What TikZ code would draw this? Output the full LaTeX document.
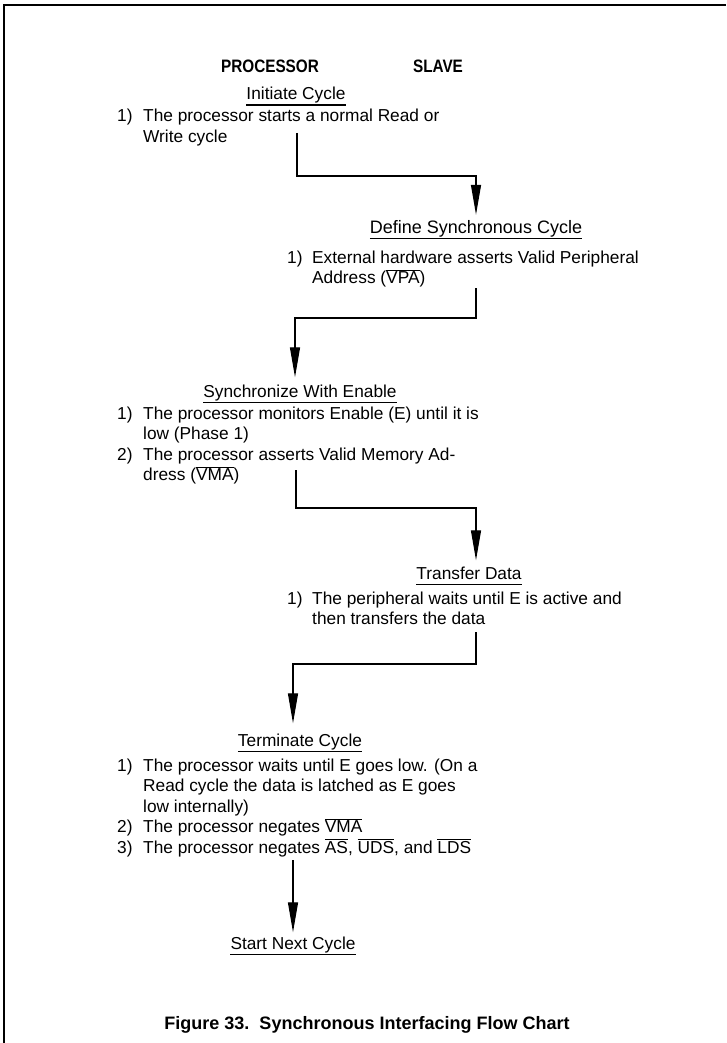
\documentclass[tikz,border=0pt]{standalone}
\usepackage{fontspec}
\setmainfont{Liberation Sans}
\newfontfamily\condsans{Liberation Sans}[FakeStretch=0.85]
\usetikzlibrary{arrows.meta}
\newcommand\ovl[1]{$\overline{\mbox{#1}}$}
\begin{document}
\begin{tikzpicture}[x=1pt,y=-1pt,
  body/.style={anchor=base west,inner sep=0pt,font=\fontsize{17.3}{20.5}\selectfont},
  colhead/.style={anchor=base,inner sep=0pt,font=\condsans\fontsize{18}{20}\selectfont\bfseries},
  heading/.style={anchor=base,inner sep=0pt,text depth=3.5pt,font=\fontsize{17.3}{20}\selectfont,
    append after command={([yshift=-1.5pt]\tikzlastnode.south west) edge[line width=1.4pt] ([yshift=-1.5pt]\tikzlastnode.south east)}},
  conn/.style={line width=1.3pt,-{Triangle[length=30pt,width=10pt]}},
  frame/.style={line width=1.5pt}]
\useasboundingbox (0,0) rectangle (726,1043);
\draw[frame] (4,1043) -- (4,5) -- (726,5);

\node[colhead] (proc) at (270,73) {PROCESSOR};
\node[colhead] (slave) at (438,73) {SLAVE};

\node[heading] (init) at (296,100) {Initiate Cycle};
\node[body] (initb) at (117,122) {\begin{tabular}[t]{@{}p{26pt}@{}l@{}}1) & The processor starts a normal Read or\\ & Write cycle\end{tabular}};
\coordinate (c1) at (297,133);

\node[heading,font=\fontsize{18}{20}\selectfont] (define) at (476,233) {Define Synchronous Cycle};
\node[body] (defb) at (287,263) {\begin{tabular}[t]{@{}p{25pt}@{}l@{}}1) & External hardware asserts Valid Peripheral\\ & Address (\ovl{VPA})\end{tabular}};
\coordinate (c2) at (476,288);

\node[heading] (sync) at (300,397) {Synchronize With Enable};
\node[body] (syncb) at (117,419) {\begin{tabular}[t]{@{}p{26pt}@{}l@{}}1) & The processor monitors Enable (E) until it is\\ & low (Phase 1)\\ 2) & The processor asserts Valid Memory Ad-\\ & dress (\ovl{VMA})\end{tabular}};
\coordinate (c3) at (296,470);

\node[heading] (transfer) at (469,579) {Transfer Data};
\node[body] (transb) at (287,604) {\begin{tabular}[t]{@{}p{25pt}@{}l@{}}1) & The peripheral waits until E is active and\\ & then transfers the data\end{tabular}};
\coordinate (c4) at (476,632);

\node[heading] (term) at (300,746) {Terminate Cycle};
\node[body] (termb) at (117,771) {\begin{tabular}[t]{@{}p{26pt}@{}l@{}}1) & The processor waits until E goes low. (On a\\ & Read cycle the data is latched as E goes\\ & low internally)\\ 2) & The processor negates \ovl{VMA}\\ 3) & The processor negates \ovl{AS}, \ovl{UDS}, and \ovl{LDS}\end{tabular}};
\coordinate (c5) at (293,860);

\node[heading] (next) at (293,949) {Start Next Cycle};

\node[anchor=base,inner sep=0pt,font=\fontsize{18}{20}\selectfont\bfseries] (caption) at (367,1029) {Figure 33.\ \ Synchronous Interfacing Flow Chart};

\draw[conn,shorten >=5pt] (c1) -- (297,176) -| (define.north);
\draw[conn,shorten >=7pt] (c2) -- (476,318) -| ([xshift=-5pt]sync.north);
\draw[conn,shorten >=6pt] (c3) -- (296,508) -| ([xshift=7pt]transfer.north);
\draw[conn,shorten >=10pt] (c4) -- (476,664) -| ([xshift=-7pt]term.north);
\draw[conn,shorten >=4pt] (c5) -- (next.north);
\end{tikzpicture}
\end{document}
